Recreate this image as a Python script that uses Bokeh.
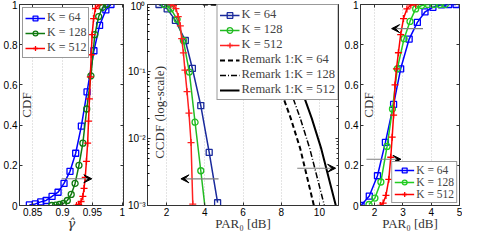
import numpy as np
from bokeh.plotting import figure
from bokeh.layouts import row
from bokeh.models import (Range1d, FixedTicker, Label, Arrow, VeeHead, CustomJSTickFormatter,
                          LinearAxis, LogAxis)
from bokeh.embed import file_html
from bokeh.resources import INLINE

# ---------------- Panel 1: CDF of gamma-hat ----------------
p1_k64_x = [0.8445, 0.8545, 0.8635, 0.8725, 0.8825, 0.8925, 0.9025, 0.9125, 0.922, 0.9315, 0.941, 0.9525, 0.962, 0.9725, 0.981]
p1_k64_y = [0.003, 0.008, 0.018, 0.025, 0.045, 0.066, 0.11, 0.17, 0.26, 0.395, 0.565, 0.77, 0.896, 0.973, 1.0]
p1_k128_x = [0.882, 0.8885, 0.895, 0.9015, 0.908, 0.9145, 0.921, 0.9275, 0.934, 0.9405, 0.9475, 0.954, 0.9605, 0.967, 0.9735]
p1_k128_y = [0.0, 0.002, 0.005, 0.01, 0.025, 0.055, 0.11, 0.2, 0.31, 0.48, 0.645, 0.85, 0.94, 0.985, 1.0]
p1_k512_x = [0.9235, 0.927, 0.931, 0.934, 0.936, 0.938, 0.940, 0.942, 0.9435, 0.945, 0.9465, 0.948, 0.9495, 0.952, 0.955, 0.961]
p1_k512_y = [0.0, 0.005, 0.02, 0.045, 0.085, 0.14, 0.22, 0.31, 0.42, 0.53, 0.64, 0.75, 0.85, 0.93, 0.98, 1.0]
p1_xticks = [0.85, 0.9, 0.95, 1.0]
p1_yticks = [0, 0.2, 0.4, 0.6, 0.8, 1.0]

# ---------------- Panel 2: CCDF of PAR0 (log) ----------------
p2_k64_x = [1.6, 2.03, 2.46, 2.98, 3.35, 3.79, 4.23, 4.67]
p2_k64_y = [1.0, 0.86, 0.58, 0.29, 0.111, 0.031, 0.0062, 0.0011]
p2_k128_x = [1.88, 2.22, 2.55, 2.88, 3.19, 3.49, 3.79, 4.09]
p2_k128_y = [1.0, 0.86, 0.6, 0.29, 0.098, 0.0175, 0.0033, 0.0006]
p2_k512_x = [2.23, 2.36, 2.49, 2.61, 2.72, 2.79, 2.88, 2.96, 3.07, 3.17, 3.28, 3.37]
p2_k512_y = [1.0, 0.97, 0.87, 0.66, 0.48, 0.31, 0.19, 0.105, 0.05, 0.024, 0.0087, 0.00105]
rem64_x = [3.9, 5.0, 6.0, 6.8, 7.4, 8.0, 8.5, 9.0, 9.75]
rem64_y = [1.0, 0.99, 0.9, 0.55, 0.2, 0.05, 0.02, 0.007, 0.0009]
rem128_x = [4.3, 5.4, 6.4, 7.2, 7.85, 8.5, 9.0, 9.5, 10.3]
rem128_y = [1.0, 0.99, 0.9, 0.55, 0.2, 0.05, 0.02, 0.007, 0.0009]
rem512_x = [4.9, 6.0, 7.0, 7.8, 8.5, 9.1, 9.6, 10.1, 10.9]
rem512_y = [1.0, 0.99, 0.9, 0.55, 0.2, 0.05, 0.02, 0.007, 0.0009]
p2_xticks = [2, 4, 6, 8, 10]
p2_yticks = [0.001, 0.01, 0.1, 1.0]

# ---------------- Panel 3: CDF of PAR0 ----------------
p3_k64_x = [1.52, 1.81, 2.10, 2.38, 2.67, 2.92, 3.22, 3.51, 3.78, 4.06, 4.36, 4.62, 4.88]
p3_k64_y = [0.0, 0.047, 0.148, 0.314, 0.503, 0.68, 0.828, 0.911, 0.963, 0.986, 0.998, 1.0, 1.0]
p3_k128_x = [1.8, 2.01, 2.22, 2.44, 2.63, 2.8, 3.04, 3.25, 3.45, 3.66, 3.88, 4.1, 4.3, 4.5]
p3_k128_y = [0.005, 0.037, 0.117, 0.294, 0.48, 0.68, 0.83, 0.916, 0.978, 0.995, 1.0, 1.0, 1.0, 1.0]
p3_k512_x = [2.2, 2.3, 2.4, 2.5, 2.57, 2.62, 2.67, 2.72, 2.77, 2.84, 2.92, 3.02, 3.14, 3.28, 3.45]
p3_k512_y = [0.0, 0.012, 0.05, 0.13, 0.24, 0.34, 0.45, 0.6, 0.68, 0.76, 0.85, 0.93, 0.978, 0.998, 1.0]
p3_xticks = [2, 3, 4, 5]
p3_yticks = [0, 0.2, 0.4, 0.6, 0.8, 1.0]

labels_k = ["K = 64", "K = 128", "K = 512"]
labels_rem = ["Remark 1:K = 64", "Remark 1:K = 128", "Remark 1:K = 512"]

SERIF = "Liberation Serif"
SANS = "Liberation Sans"
H = 233
MINOR_LOG = [m * 10.0 ** e for e in (-3, -2, -1) for m in range(2, 10)]

num_fmt = CustomJSTickFormatter(code="return String(tick);")
empty_fmt = CustomJSTickFormatter(code="return '';")
log_fmt = CustomJSTickFormatter(code="""
const e = Math.round(Math.log10(tick));
const sup = {'0':'\u2070','1':'\u00b9','2':'\u00b2','3':'\u00b3','4':'\u2074','-':'\u207b'};
return '10' + String(e).split('').map(c => sup[c]).join('');
""")


def box_axis(p, ticks, side, log=False):
    if log:
        ax = LogAxis(ticker=FixedTicker(ticks=ticks, minor_ticks=MINOR_LOG))
        ax.minor_tick_in = 2
        ax.minor_tick_out = 0
        ax.minor_tick_line_color = "#333333"
    else:
        ax = LinearAxis(ticker=FixedTicker(ticks=ticks))
        ax.minor_tick_line_color = None
    ax.formatter = empty_fmt
    ax.major_tick_in = 3
    ax.major_tick_out = 0
    ax.major_label_standoff = 0
    ax.major_label_text_font_size = "1px"
    ax.axis_line_color = None
    ax.major_tick_line_color = "#333333"
    p.add_layout(ax, side)


def style(p, xticks, yticks, xlabel, log=False, xfont=SERIF, xstyle="normal"):
    p.xaxis.ticker = FixedTicker(ticks=xticks)
    p.xaxis.formatter = num_fmt
    if log:
        p.yaxis.ticker = FixedTicker(ticks=yticks, minor_ticks=MINOR_LOG)
        p.yaxis.formatter = log_fmt
        p.yaxis.minor_tick_in = 2
        p.yaxis.minor_tick_out = 0
    else:
        p.yaxis.ticker = FixedTicker(ticks=yticks)
        p.yaxis.formatter = num_fmt
    for ax in (p.xaxis, p.yaxis):
        ax.major_tick_in = 3
        ax.major_tick_out = 0
        ax.major_label_text_font = SANS
        ax.major_label_text_font_size = "10px"
        ax.major_label_text_color = "black"
        ax.axis_line_color = "#333333"
        ax.major_tick_line_color = "#333333"
        ax.major_label_standoff = 2
    if not log:
        p.yaxis.minor_tick_line_color = None
    p.xaxis.minor_tick_line_color = None
    p.xaxis.axis_label = xlabel
    p.xaxis.axis_label_text_font = xfont
    p.xaxis.axis_label_text_font_size = "13px"
    p.xaxis.axis_label_text_font_style = xstyle
    p.xaxis.axis_label_text_color = "#333333"
    p.xaxis.axis_label_standoff = -3
    p.xgrid.grid_line_color = "#c8c8c8"
    p.xgrid.grid_line_dash = "1 2"
    p.ygrid.grid_line_color = None
    p.outline_line_color = "#333333"
    p.outline_line_alpha = 1
    p.background_fill_color = "white"
    box_axis(p, xticks, "above")
    box_axis(p, yticks, "right", log=log)


def series(p, x, y, color, marker, label):
    p.line(x, y, line_color=color, line_width=1.5, legend_label=label)
    p.scatter(x, y, marker=marker, size=6 if marker != "cross" else 7,
              line_color=color, fill_color=None, line_width=1.3, legend_label=label)


def style_legend(lg, loc, margin, fs="12px"):
    lg.location = loc
    lg.margin = margin
    lg.label_text_font = SERIF
    lg.label_text_font_size = fs
    lg.glyph_width = 20
    lg.glyph_height = 12
    lg.label_height = 12
    lg.spacing = 0
    lg.padding = 2
    lg.label_standoff = 2
    lg.border_line_color = "#333333"
    lg.border_line_width = 1
    lg.background_fill_alpha = 1


def arrow(p, x0, x1, y):
    p.add_layout(Arrow(end=VeeHead(size=8, fill_color="black", line_color="black", line_width=1),
                       x_start=x0, y_start=y, x_end=x1, y_end=y,
                       line_color="#808080", line_width=1.2))


# ---------- Figure 1 ----------
p1 = figure(width=125, height=H, x_range=Range1d(0.828, 1.002), y_range=Range1d(0, 1),
            output_backend="svg", toolbar_location=None,
            min_border_left=16, min_border_right=2, min_border_top=4, min_border_bottom=0)
style(p1, p1_xticks, p1_yticks, "\u03b3\u0302", xfont="DejaVu Serif", xstyle="italic")
series(p1, p1_k64_x, p1_k64_y, "#0000ff", "square", labels_k[0])
series(p1, p1_k128_x, p1_k128_y, "#107a10", "circle", labels_k[1])
series(p1, p1_k512_x, p1_k512_y, "#ff0000", "cross", labels_k[2])
style_legend(p1.legend[0], "top_left", 3)
arrow(p1, 0.8985, 0.949, 0.133)
p1.add_layout(Label(x=0.8405, y=0.5, text="CDF", angle=np.pi / 2, text_align="center",
                    text_baseline="middle", text_font=SERIF, text_font_size="13px",
                    text_color="#333333"))

# ---------- Figure 2 ----------
p2 = figure(width=215, height=H, x_range=Range1d(1, 11), y_range=Range1d(0.001, 1.0),
            y_axis_type="log", output_backend="svg", toolbar_location=None,
            min_border_left=20, min_border_right=2, min_border_top=4, min_border_bottom=0)
style(p2, p2_xticks, p2_yticks, "PAR\u2080 [dB]", log=True)
series(p2, p2_k64_x, p2_k64_y, "#1a2a9c", "square", labels_k[0])
series(p2, p2_k128_x, p2_k128_y, "#22bb22", "circle", labels_k[1])
series(p2, p2_k512_x, p2_k512_y, "#ff2020", "cross", labels_k[2])
p2.line(rem64_x, rem64_y, line_color="black", line_width=2, line_dash="5 3", legend_label=labels_rem[0])
p2.line(rem128_x, rem128_y, line_color="black", line_width=1.5, line_dash="6 2 1 2", legend_label=labels_rem[1])
p2.line(rem512_x, rem512_y, line_color="black", line_width=2, legend_label=labels_rem[2])
style_legend(p2.legend[0], "top_right", 0, fs="12.5px")
p2.legend[0].label_height = 14
p2.legend[0].glyph_height = 14
arrow(p2, 4.72, 2.75, 0.0025)
arrow(p2, 8.84, 10.85, 0.0036)
p2.add_layout(Label(x=1.63, y=0.0245, text="CCDF (log-scale)", angle=np.pi / 2, text_align="center",
                    text_baseline="middle", text_font=SERIF, text_font_size="13px",
                    text_color="#333333"))

# ---------- Figure 3 ----------
p3 = figure(width=122, height=H, x_range=Range1d(1.5, 5), y_range=Range1d(0, 1),
            output_backend="svg", toolbar_location=None,
            min_border_left=20, min_border_right=3, min_border_top=4, min_border_bottom=0)
style(p3, p3_xticks, p3_yticks, "PAR\u2080 [dB]")
series(p3, p3_k64_x, p3_k64_y, "#0000ff", "square", labels_k[0])
series(p3, p3_k128_x, p3_k128_y, "#22cc22", "circle", labels_k[1])
series(p3, p3_k512_x, p3_k512_y, "#ff0000", "cross", labels_k[2])
style_legend(p3.legend[0], "bottom_right", 2, fs="11.5px")
arrow(p3, 3.71, 2.6, 0.88)
arrow(p3, 1.71, 2.93, 0.23)
p3.add_layout(Label(x=1.77, y=0.5, text="CDF", angle=np.pi / 2, text_align="center",
                    text_baseline="middle", text_font=SERIF, text_font_size="13px",
                    text_color="#333333"))

layout = row(p1, p2, p3)
open("out.html", "w").write(file_html(layout, INLINE))
